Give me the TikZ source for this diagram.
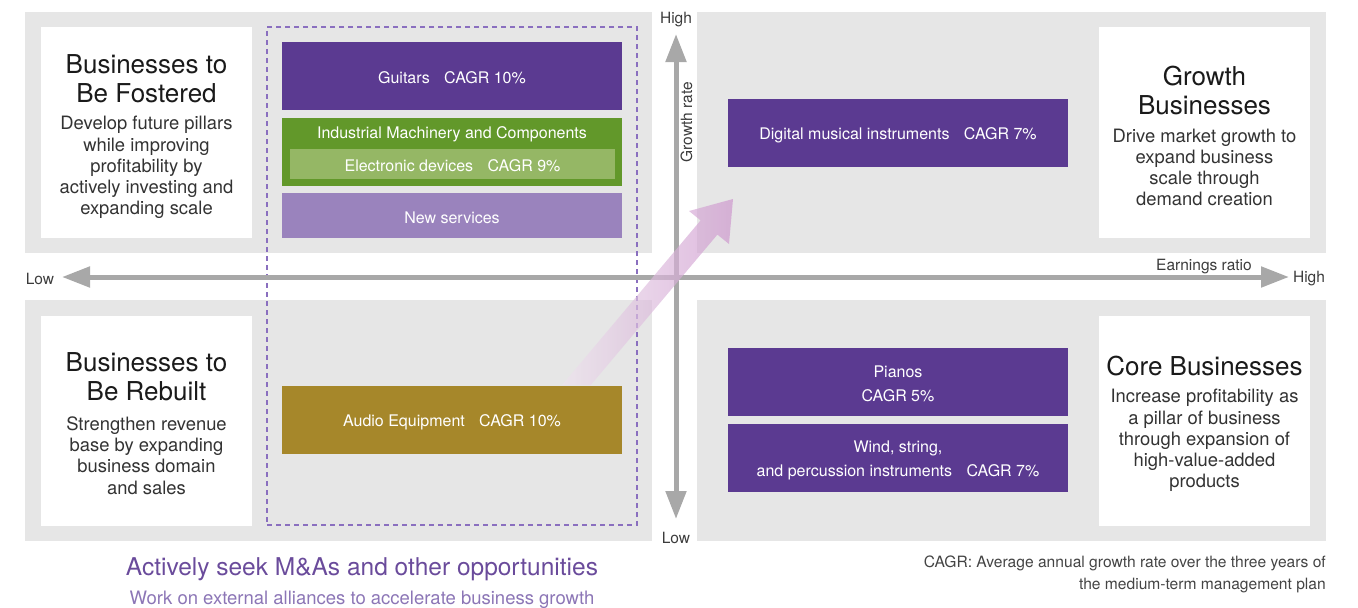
\documentclass[tikz,border=0pt]{standalone}
\usepackage{fontspec}
\setmainfont{TeX Gyre Heros}
\usetikzlibrary{arrows.meta}
\definecolor{qgray}{HTML}{E6E6E6}
\definecolor{axgray}{HTML}{A8A8A8}
\definecolor{purp}{HTML}{5B3A91}
\definecolor{grn}{HTML}{62982A}
\definecolor{lgrn}{HTML}{95B765}
\definecolor{lpurp}{HTML}{9A83BD}
\definecolor{gold}{HTML}{A6872A}
\definecolor{dashc}{HTML}{8A6FBF}
\definecolor{mtext}{HTML}{6A4B9B}
\definecolor{stext}{HTML}{8C76B6}
\definecolor{pinkA}{HTML}{CD96CD}
\definecolor{pinkB}{HTML}{EEE4EE}
\definecolor{dark}{HTML}{1A1A1A}
\definecolor{body}{HTML}{333333}
\definecolor{note}{HTML}{444444}
\tikzset{
  rect/.style={draw=none, inner sep=0pt, outer sep=0pt, rectangle},
  quad/.style={rect, fill=qgray},
  wbox/.style={rect, fill=white, minimum width=211pt},
  cbox/.style={rect, minimum width=340pt, minimum height=68pt, text=white,
    font=\fontsize{16}{24}\selectfont, align=center},
  ttl/.style={align=center, text=dark, inner sep=0pt, yshift=-1.5pt, font=\fontsize{26}{29}\selectfont},
  bdy/.style={align=center, text=body, inner sep=0pt, yshift=-1.5pt, font=\fontsize{18.4}{21.2}\selectfont},
  axlab/.style={text=dark!85, inner sep=0pt, yshift=-1.5pt, font=\fontsize{15.5}{18}\selectfont},
  axis/.style={draw=axgray, line width=5pt, {Triangle[length=28pt,width=20pt]}-{Triangle[length=28pt,width=20pt]}},
}
\newcommand{\lowr}[1]{\raisebox{-2pt}[\height][\depth]{#1}}
\begin{document}
\begin{tikzpicture}[x=1pt,y=-1pt]
\useasboundingbox (0,0) rectangle (1358,608);
% quadrants
\node[quad, minimum width=627pt, minimum height=241pt] (qtl) at (338.5,132.5) {};
\node[quad, minimum width=629pt, minimum height=241pt] (qtr) at (1011.5,132.5) {};
\node[quad, minimum width=627pt, minimum height=241pt] (qbl) at (338.5,420.5) {};
\node[quad, minimum width=629pt, minimum height=241pt] (qbr) at (1011.5,420.5) {};
% white boxes
\node[wbox, minimum height=211pt] (wtl) at (146.5,132.5) {};
\node[wbox, minimum height=211pt] (wtr) at (1204.5,132.5) {};
\node[wbox, minimum height=210pt] (wbl) at (146.5,421) {};
\node[wbox, minimum height=210pt] (wbr) at (1204.5,421) {};
% coloured boxes
\node[cbox, fill=purp] (guitars) at (452,76) {\lowr{Guitars\hspace{0.9em}CAGR 10\%}};
\node[cbox, fill=grn] (indus) at (452,152) {};
\node[text=white, inner sep=0pt, yshift=-1.5pt, font=\fontsize{16}{20}\selectfont] (indust) at (452,132.5) {Industrial Machinery and Components};
\node[rect, fill=lgrn, minimum width=325pt, minimum height=30pt, text=white, font=\fontsize{16}{20}\selectfont] (elec) at (452.5,164) {\lowr{Electronic devices\hspace{0.9em}CAGR 9\%}};
\node[cbox, fill=lpurp, minimum height=45pt] (newserv) at (452,215.5) {\lowr{New services}};
\node[cbox, fill=gold] (audio) at (452,420) {\lowr{Audio Equipment\hspace{0.9em}CAGR 10\%}};
\node[cbox, fill=purp] (digital) at (898,133) {\lowr{Digital musical instruments\hspace{0.9em}CAGR 7\%}};
\node[cbox, fill=purp] (pianos) at (898,382) {\lowr{Pianos}\\\lowr{CAGR 5\%}};
\node[cbox, fill=purp] (wind) at (898,458) {\lowr{Wind, string,}\\\lowr{and percussion instruments\hspace{0.9em}CAGR 7\%}};
% dashed frame
\node[rect, draw=dashc, line width=1.5pt, dash pattern=on 5pt off 4pt, minimum width=370pt, minimum height=498pt] (frame) at (452,276) {};
% axes
\coordinate (xl) at (62,277);
\coordinate (xr) at (1289,277);
\coordinate (yt) at (676,34);
\coordinate (yb) at (676,519);
\draw[axis] (xl) -- (xr);
\draw[axis] (yb) -- (yt);
% translucent arrow
\coordinate (tip) at (733,199);
\shade[fill opacity=0.68, shading angle=130, left color=pinkB, right color=pinkA]
  (tip) -- (729,244) -- (717.4,234.6) -- (590.8,385) -- (562.1,385) -- (700.6,220.4) -- (689,211) -- cycle;
% axis labels
\node[axlab] (hi1) at (676,18) {High};
\node[axlab] (lo1) at (676,536.5) {Low};
\node[axlab] (lo2) at (40,277.5) {Low};
\node[axlab] (hi2) at (1309,277.5) {High};
\node[axlab] (er) at (1204,265) {Earnings ratio};
\node[axlab, rotate=90, yshift=1.5pt, xshift=-1.5pt] (gr) at (688,119) {Growth rate};
% quadrant texts
\node[ttl] (t1) at (146.5,77.5) {Businesses to\\Be Fostered};
\node[bdy] (b1) at (146.5,166) {Develop future pillars\\while improving\\profitability by\\actively investing and\\expanding scale};
\node[ttl] (t2) at (1204.5,88.5) {Growth\\Businesses};
\node[bdy] (b2) at (1204.5,166) {Drive market growth to\\expand business\\scale through\\demand creation};
\node[ttl] (t3) at (146.5,375.5) {Businesses to\\Be Rebuilt};
\node[bdy] (b3) at (146.5,454) {Strengthen revenue\\base by expanding\\business domain\\and sales};
\node[ttl] (t4) at (1204.5,365) {Core Businesses};
\node[bdy] (b4) at (1204.5,439) {Increase profitability as\\a pillar of business\\through expansion of\\high-value-added\\products};
% bottom texts
\node[text=mtext, inner sep=0pt, yshift=-1.5pt, font=\fontsize{24.5}{28}\selectfont] (ma) at (362,568) {Actively seek M\&As and other opportunities};
\node[text=stext, inner sep=0pt, yshift=-1.5pt, font=\fontsize{18.5}{22}\selectfont] (wk) at (362,598) {Work on external alliances to accelerate business growth};
\node[text=note, inner sep=0pt, align=right, anchor=east, yshift=-1.5pt, font=\fontsize{15.6}{22}\selectfont] (fn) at (1326,573) {CAGR: Average annual growth rate over the three years of\\the medium-term management plan};
\end{tikzpicture}
\end{document}
